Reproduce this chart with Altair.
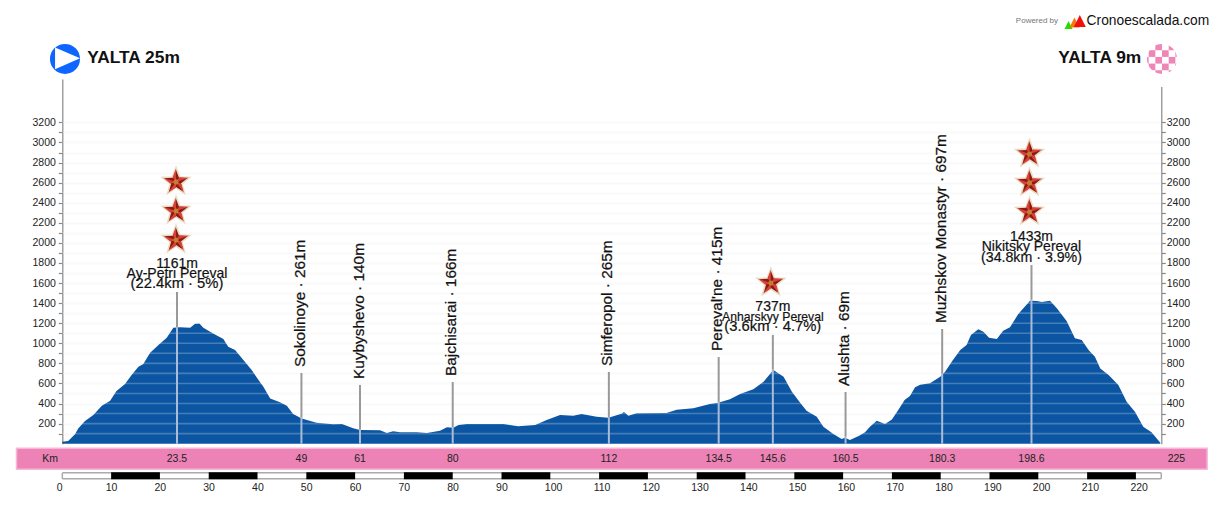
import math
import altair as alt
import pandas as pd

# ---- profile (km, metres)
profile_km = [0,1.2,2.6,3.3,4.65,6.36,8.1,9.8,11.1,12.85,14.2,15.6,16.6,18,19.7,21.4,22.75,24.1,26.2,27.2,28.1,28.9,31,33,34,35.4,37.1,38.8,40.2,41.2,42.6,44.6,46,47.3,49.05,52.1,55.5,57.3,59.6,61,65.1,66.5,67.8,69.2,72.6,74.7,77.4,78.8,80.1,81.2,82.9,87.6,90.4,93.4,96.9,99.25,102,104.7,106.4,109.5,111.9,114.6,115.1,116,117.7,123.8,125.9,129.3,132.7,134.4,136.8,138.9,141.6,143.7,145.7,147.8,149.5,151.2,152.5,154.6,155.95,158,159.7,160.4,161.4,163.3,164.5,165.5,166.9,168.6,170,171.3,172.6,173.7,174.75,175.8,177.8,179.9,180.9,182.4,184,185.3,186.2,187.7,188.75,189.9,191.5,192.8,194.2,195.9,198.3,199.7,200.7,202.4,203.8,205.8,207.5,208.9,210.3,211.6,212.7,214.4,216.4,218.1,219.8,221.5,223.2,225]
profile_m = [20,27,93,153,226,286,378,428,525,594,684,767,793,906,983,1056,1155,1159,1155,1195,1198,1155,1096,1042,966,933,833,734,634,568,451,412,378,295,252,209,193,196,153,136,133,106,123,113,113,106,130,163,159,186,196,196,196,173,186,236,285,279,295,269,259,299,315,279,302,305,339,352,395,408,442,495,541,618,734,667,518,408,329,269,169,96,46,60,37,80,113,169,229,196,242,335,435,475,561,588,601,667,717,827,933,983,1082,1139,1116,1056,1042,1125,1159,1291,1424,1421,1411,1424,1348,1222,1049,1032,933,866,750,684,584,418,319,169,113,9]

# ---- towns
town_km = [49,61,80,112,134.5,160.5,180.3]
town_m = [261,140,166,265,415,69,697]
town_top = [704,585,614,714,863,515,1142]
town_names = ["Sokolinoye · 261m","Kuybyshevo · 140m","Bajchisarai · 166m","Simferopol · 265m","Pereval'ne · 415m","Alushta · 69m","Muzhskov Monastyr · 697m"]

# ---- climbs
climb_km = [23.5,145.6,198.6]
climb_m = [1161,737,1433]
climb_top = [1511,1083,1779]
climb_alt = ["1161m","737m","1433m"]
climb_name = ["Ay-Petri Pereval","Anharskyy Pereval","Nikitsky Pereval"]
climb_name_size = [14,12.2,14]
climb_info = ["(22.4km · 5%)","(3.6km · 4.7%)","(34.8km · 3.9%)"]
climb_info_size = [14.8,14.8,14.2]
star_km = [23.3,23.3,23.3,145.2,198.2,198.2,198.2]
star_m = [2029,2318,2607,1601,2308,2597,2885]

# ---- km strip
strip_km = [-2.5,23.5,49,61,80,112,134.5,145.6,160.5,180.3,198.6,228.3]
strip_txt = ["Km","23.5","49","61","80","112","134.5","145.6","160.5","180.3","198.6","225"]
scale_ticks = list(range(0,221,10))
black_from = list(range(10,211,20))
y_ticks = list(range(100,3201,100))

XD = [0,225.2]
YD = [0,3632]
xs = alt.Scale(domain=XD, nice=False, zero=False)
ys = alt.Scale(domain=YD, nice=False, zero=False)
FONT = "Liberation Sans"
X = lambda f="km": alt.X(f, type="quantitative", scale=xs, axis=None)
Y = lambda f="m": alt.Y(f, type="quantitative", scale=ys, axis=None)

df = pd.DataFrame({"km":profile_km,"m":profile_m})

def yaxis(orient, pad):
    return alt.Axis(orient=orient, values=y_ticks, title=None, grid=orient=="left",
        gridColor="#f9f9f9", gridWidth=2, domainColor="#888", domainWidth=1.2,
        tickColor="#888", tickSize=4, tickWidth=1.2, labelColor="#222",
        labelFont=FONT, labelFontSize=10.5, labelPadding=pad,
        labelExpr="datum.value % 200 == 0 ? datum.label : ''", format="d", labelOverlap=False)

area = alt.Chart(df).mark_area(color="#0b55a2", interpolate="linear").encode(
    x=X(), y=alt.Y("m:Q", scale=ys, axis=yaxis("left",3)))
right_axis = alt.Chart(df).mark_line(opacity=0).encode(
    x=X(), y=alt.Y("m:Q", scale=ys, axis=yaxis("right",1)))

stripes = alt.Chart(pd.DataFrame({"m":y_ticks})).mark_rule(color="white", opacity=0.24, strokeWidth=1.6).encode(y=Y())

stem_df = pd.DataFrame({"km":town_km+climb_km,"m":town_m+climb_m,"top":town_top+climb_top})
stem_up = alt.Chart(stem_df).mark_rule(color="#999999", strokeWidth=2).encode(x=X(), y=Y("m"), y2="top")
stem_lo = alt.Chart(stem_df).mark_rule(color="#a9bdd8", strokeWidth=2).encode(x=X(), y=Y("m"), y2=alt.datum(0))

town_df = pd.DataFrame({"km":[k-0.3 for k in town_km],"m":[t+60 for t in town_top],"t":town_names})
towns = alt.Chart(town_df).mark_text(angle=270, align="left", baseline="middle", font=FONT, fontSize=15.4, color="#111", stroke="#111", strokeWidth=0.25).encode(
    x=X(), y=Y(), text="t:N")

rows=[]
for k,top,a,n,ns,i,iss in zip(climb_km,climb_top,climb_alt,climb_name,climb_name_size,climb_info,climb_info_size):
    rows += [(k,top+275,a,14),(k,top+175,n,ns),(k,top+75,i,iss)]
climb_df = pd.DataFrame(rows,columns=["km","m","t","fs"])
climbs = alt.Chart(climb_df).mark_text(align="center", baseline="middle", font=FONT, color="#111", stroke="#111", strokeWidth=0.2).encode(
    x=X(), y=Y(), text="t:N", size=alt.Size("fs:Q", scale=None, legend=None))

# ---- stars
def star(lit=False):
    pts=[]
    for i in range(10):
        r = 1 if i%2==0 else 0.42
        a = math.pi*i/5 - math.pi/2
        pts.append((r*math.cos(a), r*math.sin(a)))
    if not lit:
        return "M"+" L".join(f"{x:.3f},{y:.3f}" for x,y in pts)+"Z"
    s=""
    for i in range(0,10,2):
        s+=f"M0,0 L{pts[i][0]:.3f},{pts[i][1]:.3f} L{pts[(i-1)%10][0]:.3f},{pts[(i-1)%10][1]:.3f}Z"
    return s
star_df = pd.DataFrame({"km":star_km,"m":star_m})
s_halo = alt.Chart(star_df).mark_point(shape=star(), size=820, filled=True, color="#8c1a14", stroke="#e9dcc0", strokeWidth=1.6, opacity=1).encode(x=X(), y=Y())
s_lit = alt.Chart(star_df).mark_point(shape=star(True), size=730, filled=True, color="#d8403a", strokeWidth=0, opacity=1).encode(x=X(), y=Y())
s_mid = alt.Chart(star_df).mark_point(shape="circle", size=26, filled=True, color="#c9922e", opacity=0.8).encode(x=X(), y=Y())

# ---- strip and scale bar
band = alt.Chart(pd.DataFrame({"a":[-9.39],"b":[234.6],"u":[-46],"v":[-255]})).mark_rect(color="#ec82b5", stroke="#f6b8d6", strokeWidth=1.5).encode(
    x=X("a"), x2="b", y=Y("u"), y2="v")
strip = alt.Chart(pd.DataFrame({"km":strip_km,"m":[-155]*len(strip_km),"t":strip_txt})).mark_text(font=FONT, fontSize=10.5, color="#222", baseline="middle").encode(
    x=X(), y=Y(), text="t:N")
bar = alt.Chart(pd.DataFrame({"a":[0],"b":[225.2],"u":[-289],"v":[-349]})).mark_rect(color="white", stroke="#aaaaaa", strokeWidth=1.5, cornerRadius=1).encode(
    x=X("a"), x2="b", y=Y("u"), y2="v")
blacks = alt.Chart(pd.DataFrame({"a":black_from,"b":[b+10 for b in black_from],"u":[-285]*len(black_from),"v":[-353]*len(black_from)})).mark_rect(color="black").encode(
    x=X("a"), x2="b", y=Y("u"), y2="v")
scale_lab = alt.Chart(pd.DataFrame({"km":[k-1.12 for k in scale_ticks],"m":[-440]*len(scale_ticks),"t":[str(k) for k in scale_ticks]})).mark_text(
    align="left", baseline="middle", font=FONT, fontSize=10.5, color="#222").encode(x=X(), y=Y(), text="t:N")

# ---- header: start, finish, logo
t_df = pd.DataFrame({"km":[5.09,221.1],"m":[3838,3838],"t":["YALTA 25m","YALTA 9m"]})
t_l = alt.Chart(t_df.iloc[[0]]).mark_text(align="left", baseline="middle", font=FONT, fontSize=17.4, fontWeight="bold", color="#111").encode(x=X(), y=Y(), text="t:N")
t_r = alt.Chart(t_df.iloc[[1]]).mark_text(align="right", baseline="middle", font=FONT, fontSize=17.4, fontWeight="bold", color="#111").encode(x=X(), y=Y(), text="t:N")

start_c = alt.Chart(pd.DataFrame({"km":[0.55],"m":[3832]})).mark_point(shape="circle", size=900, filled=True, color="#0d66ff", opacity=1).encode(x=X(), y=Y())
start_t = alt.Chart(pd.DataFrame({"km":[1.07],"m":[3838]})).mark_point(shape="M-1,-0.87 L1,0 L-1,0.87Z", size=625, filled=True, color="white", opacity=1).encode(x=X(), y=Y())

cell_km = 6.67/4.88; cell_m = 6.67/0.1004
cells=[]
for i in range(-3,3):
    for j in range(-3,3):
        if (i+j)%2==0 and min((i+0.5+d)**2+(j+0.5+e)**2 for d in (-.5,.5) for e in (-.5,.5)) < 5.2:
            cells.append((225.35+i*cell_km,225.35+(i+1)*cell_km,3852+j*cell_m,3852+(j+1)*cell_m))
check_df = pd.DataFrame(cells,columns=["a","b","u","v"])
check = alt.Chart(check_df).mark_rect(color="#ee86b8").encode(x=X("a"), x2="b", y=Y("u"), y2="v")
ring = alt.Chart(pd.DataFrame({"km":[225.35],"m":[3832]})).mark_arc(color="white", radius=15, radius2=28, theta=0, theta2=6.2832).encode(x=X(), y=Y())

pw = alt.Chart(pd.DataFrame({"km":[195.4],"m":[4210],"t":["Powered by"]})).mark_text(align="left", baseline="middle", font=FONT, fontSize=8, color="#777").encode(x=X(), y=Y(), text="t:N")
logo = alt.Chart(pd.DataFrame({"km":[209.9],"m":[4210],"t":["Cronoescalada.com"]})).mark_text(align="left", baseline="middle", font=FONT, fontSize=13.8, color="#111").encode(x=X(), y=Y(), text="t:N")
TRI="M0,-1 L1,1 L-1,1Z"
def tri(k,m,size,c):
    return alt.Chart(pd.DataFrame({"km":[k],"m":[m]})).mark_point(shape=TRI,size=size,filled=True,color=c,opacity=1).encode(x=X(),y=Y())
tris = [tri(206.2,4170,64,"#22dd00"),tri(207.4,4195,100,"#f57a10"),tri(208.5,4210,144,"#f01010")]

chart = alt.layer(area, right_axis, stripes, stem_lo, stem_up, towns, climbs, s_halo, s_lit, s_mid,
    band, strip, bar, blacks, scale_lab, check, ring, t_l, t_r, start_c, start_t, pw, logo, *tris
).resolve_axis(y="independent").properties(
    width=1099, height=364.7,
    padding={"left":54.3,"top":71,"right":50.7,"bottom":52},
    autosize=alt.AutoSizeParams(type="none"),
    background="white"
).configure_view(stroke=None)
chart.save("out.html", embed_options={"renderer":"svg","actions":False})
